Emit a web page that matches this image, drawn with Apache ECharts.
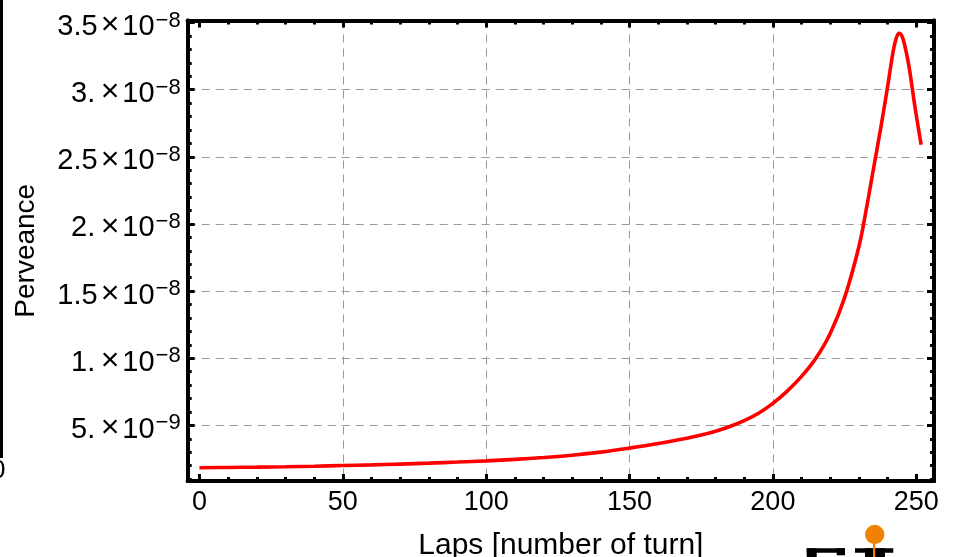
<!DOCTYPE html>
<html>
<head>
<meta charset="utf-8">
<script src="https://cdn.jsdelivr.net/npm/echarts@6/dist/echarts.min.js"></script>
<style>
  html, body { margin: 0; padding: 0; background: #ffffff; }
  #chart { width: 959px; height: 557px; }
</style>
</head>
<body>
<div id="chart"></div>
<script>
// Perveance of the beam lap by lap (values in units of 1e-9)
const laps = [0, 10, 20, 30, 40, 50, 60, 70, 80, 90, 100, 110, 120, 130, 140, 150, 160, 170, 175, 180,
              185, 190, 195, 200, 205, 210, 215, 220, 225, 230, 232.5, 235, 237.5, 240, 242, 243, 244, 245, 246, 247.5, 249.5, 251.7];
const perveance = [1.85, 1.87, 1.89, 1.92, 1.96, 2.01, 2.06, 2.12, 2.19, 2.27, 2.36, 2.47, 2.61, 2.78, 3.01, 3.31, 3.65, 4.05, 4.28, 4.57,
                   4.92, 5.35, 5.90, 6.64, 7.55, 8.65, 10.00, 11.85, 14.50, 18.30, 21.00, 24.00, 27.00, 30.20, 32.90, 33.80, 34.20, 34.00, 33.30, 31.70, 28.80, 25.90];

// Tick positions and labels
const xMajorTicks = [0, 50, 100, 150, 200, 250];
const xGridLines = [50, 100, 150, 200];
const yMajorTicks = [5, 10, 15, 20, 25, 30, 35];
const yGridLines = [5, 10, 15, 20, 25, 30];
const yTickMantissa = ['5.', '1.', '1.5', '2.', '2.5', '3.', '3.5'];
const yTickExponent = ['\u22129', '\u22128', '\u22128', '\u22128', '\u22128', '\u22128', '\u22128'];

const X_MIN = -4.1, X_MAX = 256.2;
const Y_MIN = 0.86, Y_MAX = 35.15;

const xMinorTicks = [];
for (let v = 0; v <= 250; v += 10) if (xMajorTicks.indexOf(v) < 0) xMinorTicks.push(v);
const yMinorTicks = [];
for (let v = 1; v <= 35; v += 1) if (yMajorTicks.indexOf(v) < 0) yMinorTicks.push(v);

const FONT = "'Liberation Sans', Arial, Helvetica, sans-serif";
const FRAME = { color: '#000', width: 4 };

// One edge of the frame (major or minor ticks, optional labels)
function frameAxis(kind, position, ticks, tickLen, extra) {
  const isX = kind === 'x';
  const base = {
    type: 'value',
    position: position,
    min: isX ? X_MIN : Y_MIN,
    max: isX ? X_MAX : Y_MAX,
    axisLine: { show: true, onZero: false, lineStyle: FRAME },
    axisTick: { show: true, inside: true, length: tickLen, customValues: ticks,
                lineStyle: { color: '#000', width: 3 } },
    axisLabel: { show: false },
    splitLine: { show: false },
    minorTick: { show: false },
    minorSplitLine: { show: false }
  };
  return Object.assign(base, extra || {});
}

// Invisible axis that only carries the dashed grid lines
function gridAxis(kind, lines) {
  const isX = kind === 'x';
  return {
    type: 'value',
    position: isX ? 'bottom' : 'left',
    min: isX ? X_MIN : Y_MIN,
    max: isX ? X_MAX : Y_MAX,
    axisLine: { show: false },
    axisLabel: { show: false },
    axisTick: { show: false, customValues: lines },
    splitLine: { show: true, lineStyle: { color: '#9a9a9a', width: 1, type: [8, 6] } }
  };
}

const chart = echarts.init(document.getElementById('chart'), null, { renderer: 'canvas' });

const option = {
  animation: false,
  backgroundColor: '#ffffff',
  grid: { left: 187.7, right: 25, top: 20.5, bottom: 76, containLabel: false, outerBoundsMode: 'none' },
  xAxis: [
    frameAxis('x', 'bottom', xMajorTicks, 7, {
      axisLabel: {
        show: true, customValues: xMajorTicks, margin: 8,
        fontSize: 27, color: '#000', fontFamily: FONT
      },
      name: 'Laps [number of turn]',
      nameLocation: 'middle',
      nameGap: 50,
      nameTextStyle: { fontSize: 30, color: '#000', fontFamily: FONT }
    }),
    frameAxis('x', 'bottom', xMinorTicks, 4),
    frameAxis('x', 'top', xMajorTicks, 7),
    frameAxis('x', 'top', xMinorTicks, 4),
    gridAxis('x', xGridLines)
  ],
  yAxis: [
    frameAxis('y', 'left', yMajorTicks, 7, {
      axisLabel: {
        show: true, customValues: yMajorTicks, margin: 7,
        color: '#000', fontFamily: FONT,
        padding: [6, 0, 0, 0],
        formatter: function (v) {
          const i = yMajorTicks.indexOf(Math.round(v));
          if (i < 0) return '';
          const mant = yTickMantissa[i];
          // whole-number mantissas keep a slightly wider gap before the "×"
          const gap = mant.length < 3 ? '\u200a' : '';
          return '{m|' + mant + gap + '}{x|\u00d7}{m|10}{s|' + yTickExponent[i] + '}';
        },
        rich: {
          m: { fontSize: 29, color: '#000', fontFamily: FONT, lineHeight: 32, verticalAlign: 'bottom' },
          x: { fontSize: 32, color: '#000', fontFamily: FONT, lineHeight: 32, verticalAlign: 'bottom', padding: [0, 3, 0, 3] },
          s: { fontSize: 22, color: '#000', fontFamily: FONT, lineHeight: 32, verticalAlign: 'top', padding: [0, 0, 0, 1] }
        }
      },
      name: 'Perveance',
      nameLocation: 'middle',
      nameGap: 147,
      nameRotate: 90,
      nameTextStyle: { fontSize: 28, color: '#000', fontFamily: FONT }
    }),
    frameAxis('y', 'left', yMinorTicks, 4),
    frameAxis('y', 'right', yMajorTicks, 7),
    frameAxis('y', 'right', yMinorTicks, 4),
    gridAxis('y', yGridLines)
  ],
  series: [{
    type: 'line',
    xAxisIndex: 0,
    yAxisIndex: 0,
    data: laps.map(function (x, i) { return [x, perveance[i]]; }),
    showSymbol: false,
    smooth: 0.4,
    lineStyle: { color: '#ff0000', width: 3.6 },
    z: 5
  }],
  graphic: [
    // edge of the neighbouring panel on the left
    { type: 'rect', left: 0, top: 0, shape: { width: 3, height: 458 }, style: { fill: '#000' }, silent: true },
    { type: 'text', left: -9, top: 458, style: { text: '0', font: '26px ' + FONT, fill: '#000' }, silent: true },
    // emblem in the lower right corner
    { type: 'circle', shape: { cx: 874.7, cy: 534.5, r: 9.7 }, style: { fill: '#ef8200' }, silent: true },
    { type: 'rect', shape: { x: 806.7, y: 548.3, width: 38.3, height: 4.4 }, style: { fill: '#000' }, silent: true },
    { type: 'rect', shape: { x: 806.7, y: 548.3, width: 10, height: 9 }, style: { fill: '#000' }, silent: true },
    { type: 'rect', shape: { x: 836.7, y: 548.3, width: 8.3, height: 7 }, style: { fill: '#000' }, silent: true },
    { type: 'rect', shape: { x: 855, y: 548.3, width: 38.3, height: 4.4 }, style: { fill: '#000' }, silent: true },
    { type: 'rect', shape: { x: 865, y: 548.3, width: 20, height: 9 }, style: { fill: '#000' }, silent: true },
    { type: 'rect', shape: { x: 873, y: 543, width: 2.2, height: 14 }, style: { fill: '#ef8200' }, z: 10, silent: true }
  ]
};

chart.setOption(option);
</script>
</body>
</html>
